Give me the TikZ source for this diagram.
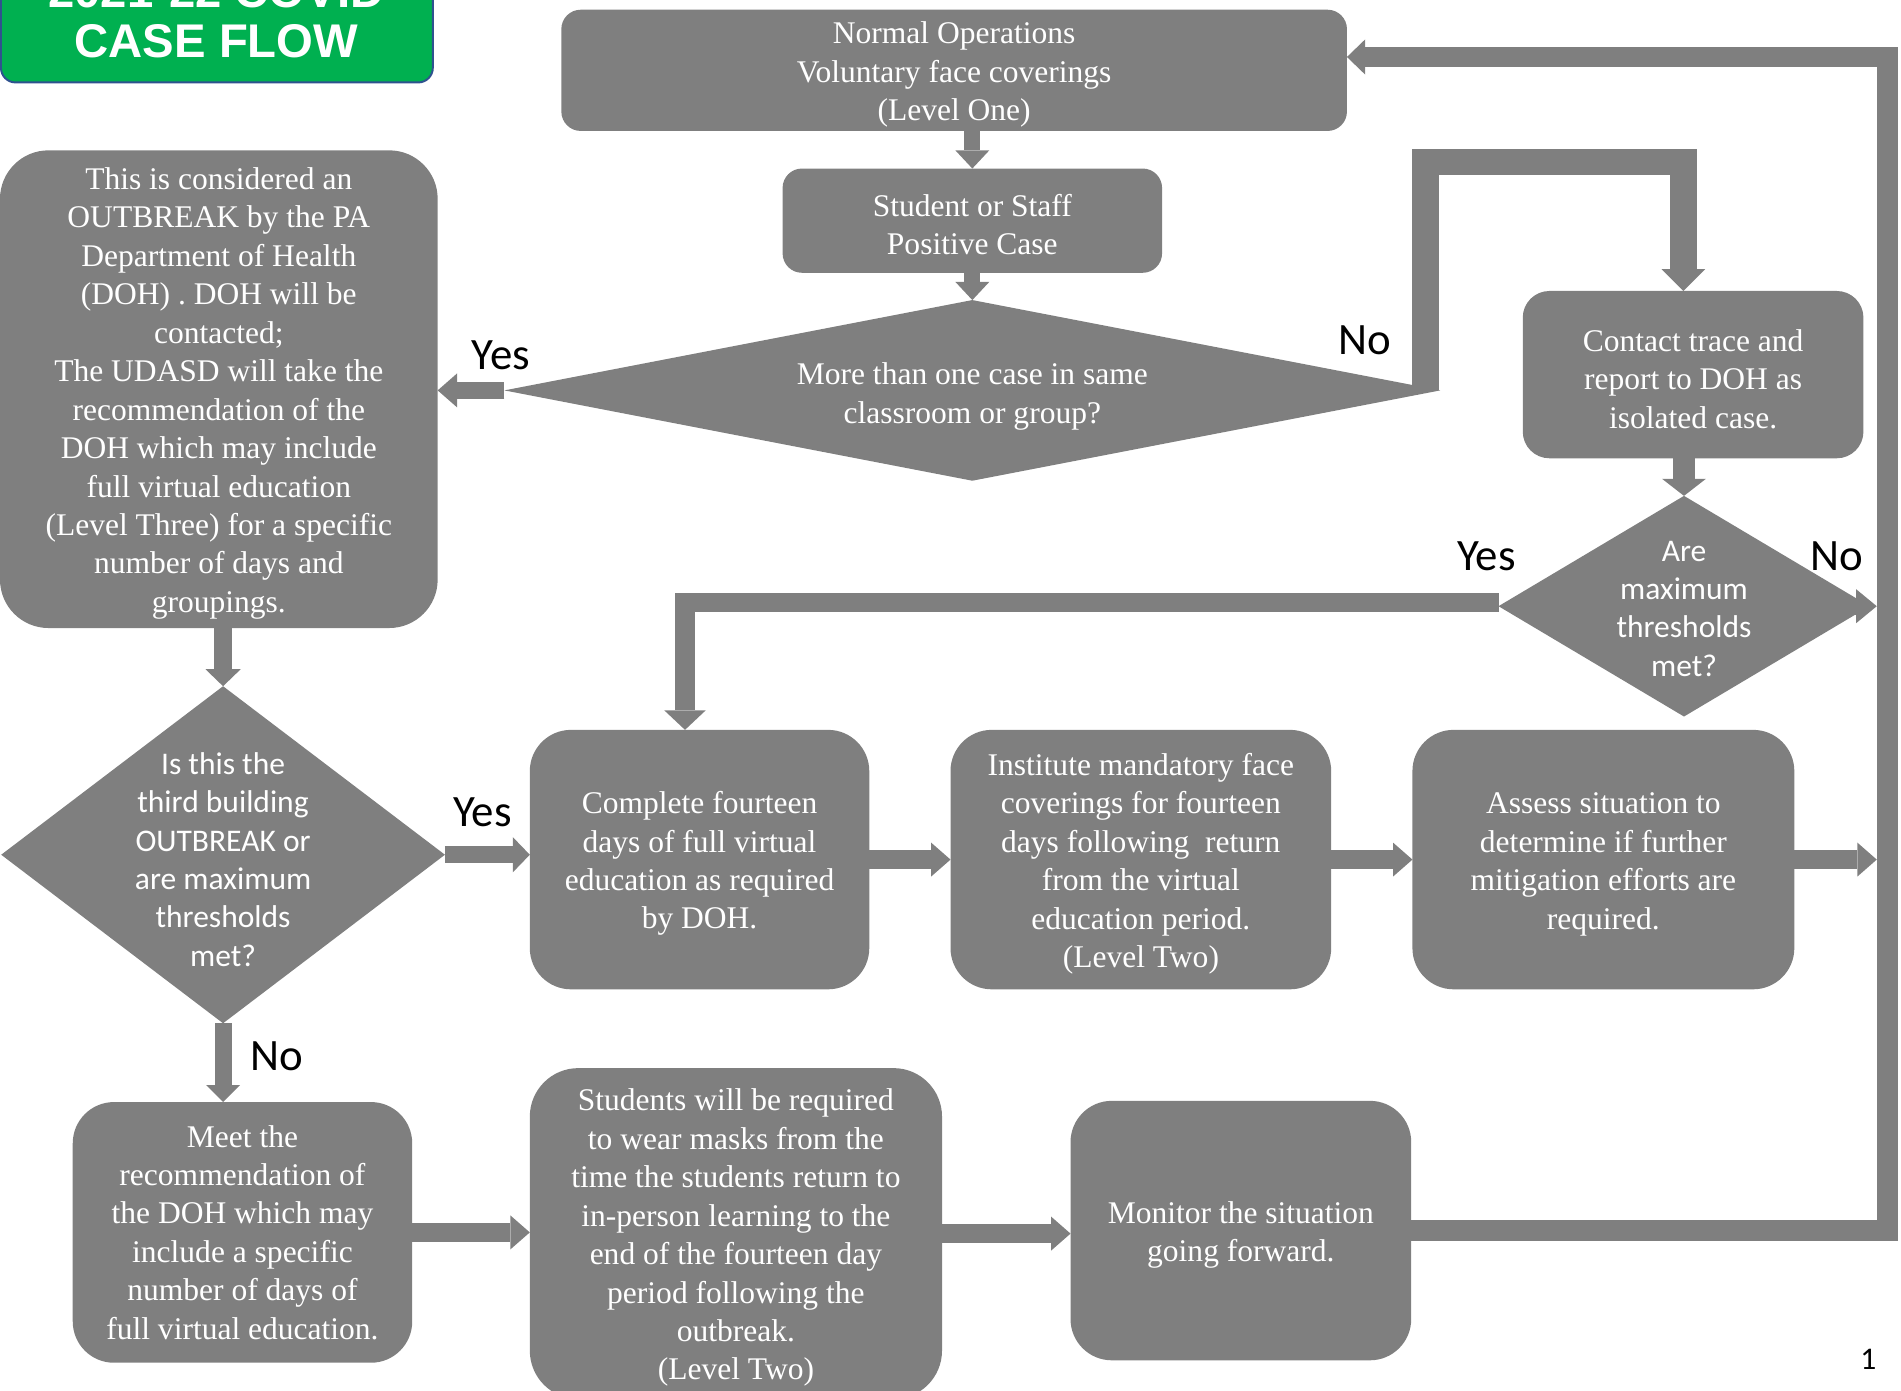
\documentclass[tikz,border=0pt]{standalone}
\usepackage{fontspec}
\setmainfont{Liberation Serif}
\newfontfamily\calfont{Carlito}
\newfontfamily\titlefont{Liberation Sans}
\usetikzlibrary{arrows.meta,shapes.geometric,calc}
\definecolor{boxgray}{RGB}{127,127,127}
\definecolor{titlegreen}{RGB}{0,176,80}
\definecolor{titleedge}{RGB}{47,82,143}
\newcommand\boxtop{\rule{0pt}{12.5pt}}
\tikzset{
  box/.style={fill=boxgray, text=white, rounded corners=#1, inner sep=0pt, outer sep=0pt,
    align=center, font=\fontsize{13pt}{15.85pt}\selectfont},
  box/.default=8pt,
  dia/.style={diamond, fill=boxgray, inner sep=0pt, outer sep=0pt},
  diatext/.style={text=white, align=center, inner sep=0pt, font=\calfont\fontsize{13pt}{15.8pt}\selectfont},
  sertext/.style={text=white, align=center, inner sep=0pt, font=\fontsize{13pt}{15.85pt}\selectfont},
  lbl/.style={font=\calfont\fontsize{18.5pt}{22pt}\selectfont, inner sep=0pt},
  flow/.style n args={3}{draw=boxgray, line width=#1, line join=miter,
    -{Triangle[width=#2,length=#3,line width=0pt]}}
}
\begin{document}
\begin{tikzpicture}[x=0.5pt,y=-0.5pt]
\useasboundingbox (0,0) rectangle (1568,1147);
\clip (0,0) rectangle (1568,1147);

% title
\path[fill=titlegreen, draw=titleedge, line width=0.8pt, rounded corners=6pt] (0.8,-80) rectangle (357,68);
\node[font=\titlefont\bfseries\fontsize{19.5pt}{20.75pt}\selectfont, text=white, align=center, inner sep=0pt] (title) at (178.5,13.5) {2021-22 COVID\\CASE FLOW};

% boxes
\node[box=8pt, minimum width=324pt, minimum height=50pt] (A) at (787,58) {\boxtop Normal Operations\\Voluntary face coverings\\(Level One)};
\node[box=8pt, minimum width=156.5pt, minimum height=43pt] (B) at (802,182) {\boxtop Student or Staff\\Positive Case};
\node[dia, minimum width=386pt, minimum height=74.5pt] (D1) at (802,322) {};
\node[sertext] (D1t) at (802,327) {More than one case in same\\classroom or group?};
\node[box=20pt, minimum width=180.5pt, minimum height=197pt] (L) at (180.5,321) {\boxtop This is considered an\\OUTBREAK by the PA\\Department of Health\\(DOH) . DOH will be\\contacted;\\The UDASD will take the\\recommendation of the\\DOH which may include\\full virtual education\\(Level Three) for a specific\\number of days and\\groupings.};
\node[box=11pt, minimum width=140.5pt, minimum height=69pt] (C) at (1396.5,309) {\boxtop Contact trace and\\report to DOH as\\isolated case.};
\node[dia, minimum width=153pt, minimum height=91pt] (D2) at (1389,500) {};
\node[diatext] (D2t) at (1389,502) {Are\\maximum\\thresholds\\met?};
\node[dia, minimum width=183pt, minimum height=139pt] (D3) at (184,705) {};
\node[diatext] (D3t) at (184,709) {Is this the\\third building\\OUTBREAK or\\are maximum\\thresholds\\met?};
\node[box=17pt, minimum width=140pt, minimum height=107pt] (E) at (577,709) {\boxtop Complete fourteen\\days of full virtual\\education as required\\by DOH.};
\node[box=17pt, minimum width=157pt, minimum height=107pt] (F) at (941,709) {\boxtop Institute mandatory face\\coverings for fourteen\\days following\ \ return\\from the virtual\\education period.\\(Level Two)};
\node[box=17pt, minimum width=157.5pt, minimum height=107pt] (G) at (1322.5,709) {\boxtop Assess situation to\\determine if further\\mitigation efforts are\\required.};
\node[box=17pt, minimum width=140pt, minimum height=107.5pt] (H) at (200,1016.5) {Meet the\\recommendation of\\the DOH which may\\include a specific\\number of days of\\full virtual education.};
\node[box=20pt, minimum width=170pt, minimum height=136.5pt] (I) at (607,1017.5) {\boxtop Students will be required\\to wear masks from the\\time the students return to\\in-person learning to the\\end of the fourteen day\\period following the\\outbreak.\\(Level Two)};
\node[box=17pt, minimum width=140.5pt, minimum height=107pt] (J) at (1023.5,1015) {\boxtop Monitor the situation\\going forward.};

\coordinate (RL) at (1548,0);
\coordinate (RC) at (1557,0);

% connectors
\draw[flow={6.5pt}{14pt}{7.5pt}] (B.north |- A.south) -- (B.north);
\draw[flow={6.5pt}{14pt}{7.5pt}] (B.south) -- (D1.north);
\draw[flow={7pt}{14pt}{8pt}] (D1.west) -- (L.east |- D1.west);
\draw[flow={11pt}{18pt}{9pt}] ($(D1.east)+(-12,0)$) -- ++(0,-188.5) -| ($(C.north)+(-8,0)$);
\draw[flow={9pt}{18pt}{7pt}] (D2.north |- C.south) -- (D2.north);
\draw[flow={8pt}{17pt}{8pt}] ($(D2.west)+(0,-3)$) -| ($(E.north)+(-12,0)$);
\draw[flow={7pt}{14pt}{8.5pt}] ($(D2.east)+(-16,0)$) -- (RL |- D2.east);
\draw[flow={7.5pt}{14.5pt}{7pt}] (D3.north |- L.south) -- (D3.north);
\draw[flow={7pt}{14.5pt}{7pt}] (D3.east) -- (E.west |- D3.east);
\draw[flow={7pt}{14pt}{7pt}] (D3.south) -- (D3.south |- H.north);
\draw[flow={8pt}{14pt}{8pt}] (E.east) -- (F.west);
\draw[flow={8pt}{14pt}{8pt}] (F.east) -- (G.west);
\draw[flow={8pt}{14pt}{8pt}] (G.east) -- (RL |- G.east);
\draw[flow={8pt}{14pt}{8pt}] (H.east) -- (H.east -| I.west);
\draw[flow={8pt}{14pt}{8pt}] (I.east) -- (I.east -| J.west);
\draw[flow={8.5pt}{14.5pt}{7.5pt}] (J.east) -- (RC |- J.east) -- (RC |- 0,47) -- (A.east |- 0,47);

% labels
\node[lbl] (yes1) at (413,293) {Yes};
\node[lbl] (no1) at (1126,281) {No};
\node[lbl] (yes2) at (1226,459) {Yes};
\node[lbl] (no2) at (1515,459) {No};
\node[lbl] (yes3) at (398,670) {Yes};
\node[lbl] (no3) at (228,871) {No};
\node[font=\calfont\fontsize{13pt}{15pt}\selectfont, inner sep=0pt] (pg) at (1541,1121) {1};
\end{tikzpicture}
\end{document}
